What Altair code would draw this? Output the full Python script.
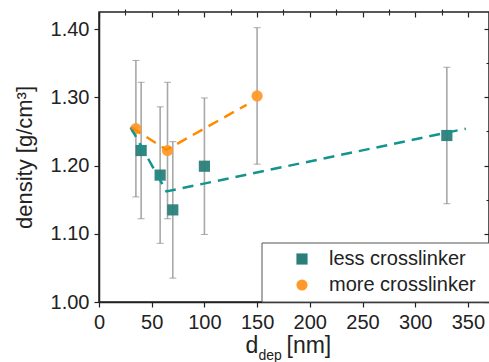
import altair as alt
import pandas as pd

# ---- data ----
less_x = [40, 58, 70, 100, 330]
less_y = [1.222, 1.186, 1.135, 1.199, 1.244]
less_err = [0.10, 0.10, 0.10, 0.10, 0.10]

more_x = [35, 65, 150]
more_y = [1.254, 1.222, 1.302]
more_err = [0.10, 0.10, 0.10]

less_fit_x = [30, 64, 348]
less_fit_y = [1.256, 1.162, 1.254]
more_fit_x = [30.7, 64, 140]
more_fit_y = [1.256, 1.223, 1.289]

series_names = ["less crosslinker", "more crosslinker"]
x_major = [0, 50, 100, 150, 200, 250, 300, 350]
x_minor = [25, 75, 125, 175, 225, 275, 325]
y_major = [1.00, 1.10, 1.20, 1.30, 1.40]
y_minor = [1.05, 1.15, 1.25, 1.35]

TEAL = "#2a7f7a"
TEAL_LINE = "#13948e"
ORANGE = "#ff9a2a"
ORANGE_LINE = "#ff8a00"
FONT = "Liberation Sans"
W, H = 390, 290

pts = pd.DataFrame({
    "x": less_x + more_x,
    "y": less_y + more_y,
    "lo": [v - e for v, e in zip(less_y, less_err)] + [v - e for v, e in zip(more_y, more_err)],
    "hi": [v + e for v, e in zip(less_y, less_err)] + [v + e for v, e in zip(more_y, more_err)],
    "series": [series_names[0]] * len(less_x) + [series_names[1]] * len(more_x),
})
fit_less = pd.DataFrame({"x": less_fit_x, "y": less_fit_y})
fit_more = pd.DataFrame({"x": more_fit_x, "y": more_fit_y})

xs = alt.Scale(domain=[0, 370], nice=False, zero=False)
ys = alt.Scale(domain=[1.0, 1.425], nice=False, zero=False)

base = alt.Chart(pts)

def axis_layer(xaxis, yaxis):
    return base.mark_point(opacity=0).encode(
        x=alt.X("x:Q", scale=xs, axis=xaxis),
        y=alt.Y("y:Q", scale=ys, axis=yaxis),
    )

common = dict(grid=False, tickColor="#222", domainColor="#222", labelColor="#222",
              labelFont=FONT, titleFont=FONT)

ax_main = axis_layer(
    alt.Axis(values=x_major, tickSize=5, tickWidth=1.2, labelFontSize=20, labelPadding=5,
             domainWidth=1.5, title=None, labelFlush=False, **common),
    alt.Axis(values=y_major, format=".2f", tickSize=5, tickWidth=1.2, labelFontSize=20,
             labelPadding=5, domainWidth=1.5, title="density [g/cm³]", titleFontSize=22,
             titleFontWeight="normal", titleColor="#222", titlePadding=14, **common),
)
ax_minor = axis_layer(
    alt.Axis(values=x_minor, tickSize=3, tickWidth=1.1, labels=False, domain=False, title=None, **common),
    alt.Axis(values=y_minor, tickSize=3, tickWidth=1.1, labels=False, domain=False, title=None, **common),
)
ax_top = axis_layer(
    alt.Axis(orient="top", values=x_major, tickSize=5, tickWidth=1.2, offset=-5, labels=False,
             domain=False, title=None, **common),
    alt.Axis(orient="right", values=y_major, tickSize=5, tickWidth=1.2, offset=-5, labels=False,
             domain=False, title=None, **common),
)
ax_top_minor = axis_layer(
    alt.Axis(orient="top", values=x_minor, tickSize=3, tickWidth=1.1, offset=-3, labels=False,
             domain=False, title=None, **common),
    alt.Axis(orient="right", values=y_minor, tickSize=3, tickWidth=1.1, offset=-3, labels=False,
             domain=False, title=None, **common),
)

err = base.mark_rule(color="#a8a8a8", strokeWidth=1.6).encode(
    x=alt.X("x:Q", scale=xs, axis=None),
    y=alt.Y("lo:Q", scale=ys, axis=None),
    y2="hi:Q",
)
cap_lo = base.mark_tick(color="#888", orient="horizontal", size=7, thickness=1).encode(
    x=alt.X("x:Q", scale=xs, axis=None), y=alt.Y("lo:Q", scale=ys, axis=None))
cap_hi = base.mark_tick(color="#888", orient="horizontal", size=7, thickness=1).encode(
    x=alt.X("x:Q", scale=xs, axis=None), y=alt.Y("hi:Q", scale=ys, axis=None))

leg = alt.Legend(orient="none", legendX=193, legendY=237, title=None,
                 labelFontSize=20, labelFont=FONT, labelColor="#222",
                 symbolSize=125, labelOffset=17, rowPadding=6,
                 padding=0, symbolStrokeWidth=0, symbolOpacity=1)

points = base.mark_point(filled=True, size=125, opacity=0.95).encode(
    x=alt.X("x:Q", scale=xs, axis=None),
    y=alt.Y("y:Q", scale=ys, axis=None),
    color=alt.Color("series:N", scale=alt.Scale(domain=series_names, range=[TEAL, ORANGE]), legend=leg),
    shape=alt.Shape("series:N", scale=alt.Scale(domain=series_names, range=["square", "circle"]), legend=leg),
)

line_less = alt.Chart(fit_less).mark_line(color=TEAL_LINE, strokeWidth=2.5, strokeDash=[11, 7]).encode(
    x=alt.X("x:Q", scale=xs, axis=None), y=alt.Y("y:Q", scale=ys, axis=None))
line_more = alt.Chart(fit_more).mark_line(color=ORANGE_LINE, strokeWidth=2.5, strokeDash=[11, 7]).encode(
    x=alt.X("x:Q", scale=xs, axis=None), y=alt.Y("y:Q", scale=ys, axis=None))

box = alt.Chart(pd.DataFrame({"k": [0]})).mark_rect(fill="white", stroke="#555", strokeWidth=1).encode(
    x=alt.value(163), x2=alt.value(W + 10), y=alt.value(231), y2=alt.value(H))

title_df = pd.DataFrame({"k": [0]})
t_d = alt.Chart(title_df).mark_text(text="d", font=FONT, fontSize=23, align="left", color="#222").encode(
    x=alt.value(146.5), y=alt.value(H + 51))
t_dep = alt.Chart(title_df).mark_text(text="dep", font=FONT, fontSize=14, align="left", color="#222").encode(
    x=alt.value(159.5), y=alt.value(H + 58))
t_nm = alt.Chart(title_df).mark_text(text="[nm]", font=FONT, fontSize=23, align="left", color="#222").encode(
    x=alt.value(187.5), y=alt.value(H + 51))

chart = alt.layer(
    ax_main, ax_minor, ax_top, ax_top_minor,
    err, cap_lo, cap_hi, box, points, line_less, line_more, t_d, t_dep, t_nm,
).resolve_axis(x="independent", y="independent").properties(
    width=W, height=H,
    autosize=alt.AutoSizeParams(type="none"),
    padding={"left": 99, "top": 12, "right": 0, "bottom": 60},
).configure_view(stroke="#222", strokeWidth=1.5).configure_text(baseline="alphabetic")

chart.save("out.html", embed_options={"renderer": "svg", "actions": False})
